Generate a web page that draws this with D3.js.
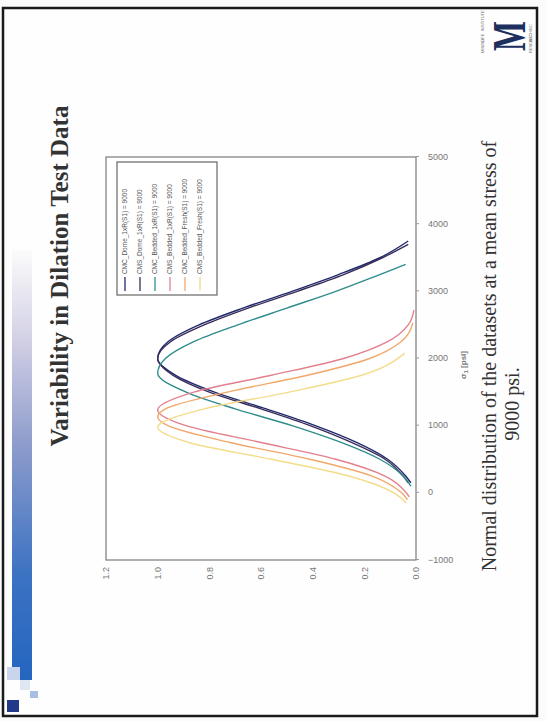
<!DOCTYPE html>
<html><head><meta charset="utf-8">
<script src="https://cdn.jsdelivr.net/npm/d3@7"></script>
<style>html,body{margin:0;padding:0;background:#fff;} svg{display:block}</style>
</head><body>
<svg id="c" width="547" height="721"></svg>
<script>
// ---- data ----
const titleText = "Variability in Dilation Test Data";
const captionLines = ["Normal distribution of the datasets at a mean stress of", "9000 psi."];
const xTickValues = [-1000, 0, 1000, 2000, 3000, 4000, 5000];
const yTickValues = [0, 0.2, 0.4, 0.6, 0.8, 1.0, 1.2];
const yTickLabels = ["0.0", "0.2", "0.4", "0.6", "0.8", "1.0", "1.2"];
const seriesNames = [
  "CMC_Dome_1xR(S1) = 9000",
  "CMS_Dome_1xR(S1) = 9000",
  "CMC_Bedded_1xR(S1) = 9000",
  "CMS_Bedded_1xR(S1) = 9000",
  "CMC_Bedded_Fresh(S1) = 9000",
  "CMS_Bedded_Fresh(S1) = 9000"
];
const seriesColors = ["#1e2a6e", "#3b2c58", "#2f8c8c", "#e2808e", "#f1a86a", "#f3dc8a"];

const psi1 = [150, 250, 500, 750, 1000, 1250, 1500, 1750, 2000, 2250, 2500, 2750, 3000, 3250, 3500, 3750];
const val1 = [0.02, 0.04, 0.11, 0.23, 0.39, 0.58, 0.78, 0.93, 1.0, 0.96, 0.84, 0.67, 0.48, 0.30, 0.14, 0.03];
const psi2 = [150, 250, 500, 750, 1000, 1250, 1500, 1750, 2000, 2250, 2500, 2750, 3000, 3250, 3500, 3700];
const val2 = [0.03, 0.05, 0.12, 0.25, 0.41, 0.60, 0.80, 0.94, 1.0, 0.95, 0.82, 0.65, 0.46, 0.28, 0.13, 0.03];
const psi3 = [100, 250, 500, 750, 1000, 1250, 1500, 1780, 2000, 2250, 2500, 2750, 3000, 3250, 3400];
const val3 = [0.02, 0.05, 0.14, 0.29, 0.48, 0.70, 0.89, 1.0, 0.97, 0.86, 0.69, 0.50, 0.31, 0.14, 0.04];
const psi4 = [-60, 0, 250, 500, 750, 1000, 1235, 1500, 1750, 2000, 2250, 2500, 2720];
const val4 = [0.026, 0.037, 0.12, 0.31, 0.60, 0.89, 1.0, 0.86, 0.56, 0.28, 0.11, 0.03, 0.008];
const psi5 = [-100, 0, 250, 500, 750, 1000, 1130, 1250, 1500, 1750, 2000, 2250, 2530];
const val5 = [0.033, 0.056, 0.17, 0.41, 0.72, 0.96, 1.0, 0.97, 0.73, 0.42, 0.18, 0.058, 0.012];
const psi6 = [-150, 0, 250, 500, 750, 975, 1250, 1500, 1750, 2080];
const val6 = [0.038, 0.086, 0.26, 0.56, 0.88, 1.0, 0.82, 0.49, 0.21, 0.043];

const seriesPsi = [psi1, psi2, psi3, psi4, psi5, psi6];
const seriesVal = [val1, val2, val3, val4, val5, val6];
const series = seriesNames.map((n, i) => ({
  name: n, color: seriesColors[i],
  pts: seriesPsi[i].map((p, j) => [p, seriesVal[i][j]])
}));

// ---- drawing ----
const svg = d3.select("#c");
svg.append("rect").attr("width", 547).attr("height", 721).attr("fill", "#fbfbfb");

// slide is rotated -90deg in the photo
const slide = svg.append("g").attr("transform", "translate(0,721) rotate(-90)");
const defs = svg.append("defs");
const grad = defs.append("linearGradient").attr("id", "bar").attr("x1", "0").attr("x2", "1").attr("y1", "0").attr("y2", "0");
grad.append("stop").attr("offset", "0").attr("stop-color", "#2465c0");
grad.append("stop").attr("offset", "0.25").attr("stop-color", "#3d73c2");
grad.append("stop").attr("offset", "0.55").attr("stop-color", "#8e9ccc");
grad.append("stop").attr("offset", "0.8").attr("stop-color", "#d4d2e6");
grad.append("stop").attr("offset", "1").attr("stop-color", "#fbfbfb");

slide.append("rect").attr("x", 5).attr("y", 3).attr("width", 708).attr("height", 534)
  .attr("fill", "#fefefe").attr("stroke", "#1a1a1a").attr("stroke-width", 2.5);

// decorative bar and squares
slide.append("rect").attr("x", 41).attr("y", 12).attr("width", 430).attr("height", 20).attr("fill", "url(#bar)");
const squares = [
  {x: 41, y: 7, w: 13, h: 13, c: "#c9d5ec"},
  {x: 31, y: 20, w: 10, h: 10, c: "#dfe6f4"},
  {x: 23, y: 30, w: 7, h: 8, c: "#a8bde2"},
  {x: 9, y: 7, w: 12, h: 12, c: "#22398a"}
];
slide.selectAll("rect.sq").data(squares).join("rect").attr("class", "sq")
  .attr("x", d => d.x).attr("y", d => d.y).attr("width", d => d.w).attr("height", d => d.h).attr("fill", d => d.c);

// title
slide.append("text").attr("x", 445).attr("y", 68).attr("text-anchor", "middle")
  .attr("font-family", "'Liberation Serif', 'Times New Roman', serif").attr("font-weight", "bold")
  .attr("font-size", 25).attr("fill", "#333").text(titleText);

// logo
const logo = slide.append("g");
logo.append("text").attr("x", 685).attr("y", 525).attr("text-anchor", "middle")
  .attr("font-family", "'Liberation Serif', serif").attr("font-weight", "bold").attr("font-size", 46)
  .attr("textLength", 30).attr("lengthAdjust", "spacingAndGlyphs").attr("fill", "#1c2f5e").text("M");
["MINING", "LIFE", "INSTITUTE"].forEach((t, i) => {
  logo.append("text").attr("x", 668 + i * 11).attr("y", 484).attr("font-family", "Arial, sans-serif")
    .attr("font-size", 4).attr("fill", "#777").text(t);
});
["RESEARCH", "LLC", "INC"].forEach((t, i) => {
  logo.append("text").attr("x", 668 + i * 11).attr("y", 532).attr("font-family", "Arial, sans-serif")
    .attr("font-size", 4).attr("fill", "#777").text(t);
});

// chart
const x = d3.scaleLinear().domain([-1000, 5000]).range([161, 564]);
const y = d3.scaleLinear().domain([0, 1.2]).range([416, 106]);
const chart = slide.append("g");

chart.append("rect").attr("x", x(-1000)).attr("y", y(1.2)).attr("width", x(5000) - x(-1000)).attr("height", y(0) - y(1.2))
  .attr("fill", "#fff").attr("stroke", "#7a7a7a").attr("stroke-width", 1.2);

const line = d3.line().x(d => x(d[0])).y(d => y(d[1])).curve(d3.curveMonotoneX);
chart.selectAll("path.s").data(series).join("path").attr("class", "s")
  .attr("d", d => line(d.pts)).attr("fill", "none").attr("stroke", d => d.color).attr("stroke-width", 1.4);

// x axis
const xAxis = chart.append("g").attr("transform", `translate(0,${y(0)})`)
  .call(d3.axisBottom(x).tickValues(xTickValues).tickSize(3).tickFormat(d3.format("d")));
xAxis.select(".domain").remove();
xAxis.selectAll("line").attr("stroke", "#999");
xAxis.selectAll("text").attr("transform", "rotate(90)").attr("x", 12).attr("y", 0).attr("dy", "0.35em")
  .attr("text-anchor", "start").attr("font-family", "Arial, sans-serif").attr("font-size", 9).attr("fill", "#777");

// y axis
const yAxis = chart.append("g").attr("transform", `translate(${x(-1000)},0)`)
  .call(d3.axisLeft(y).tickValues(yTickValues).tickSize(0).tickPadding(7).tickFormat((d, i) => yTickLabels[i]));
yAxis.select(".domain").remove();
yAxis.selectAll("text").attr("font-family", "Arial, sans-serif").attr("font-size", 9).attr("fill", "#777");

// axis title
const at = chart.append("text").attr("x", 356).attr("y", 466).attr("text-anchor", "middle")
  .attr("font-family", "Arial, sans-serif").attr("font-size", 8).attr("font-weight", "bold").attr("fill", "#777");
at.append("tspan").text("σ");
at.append("tspan").attr("font-size", 6).attr("dy", 2).text("1");
at.append("tspan").attr("dy", -2).text(" [psi]");

// legend
const lg = chart.append("g").attr("transform", "translate(426,117)");
lg.append("rect").attr("width", 133).attr("height", 100).attr("fill", "#fff").attr("stroke", "#666").attr("stroke-width", 1.2);
const rows = lg.selectAll("g.r").data(series).join("g").attr("class", "r")
  .attr("transform", (d, i) => `translate(0,${8 + i * 15})`);
rows.append("line").attr("x1", 4).attr("x2", 18).attr("y1", 0).attr("y2", 0).attr("stroke", d => d.color).attr("stroke-width", 1.3);
rows.append("text").attr("x", 21).attr("y", 0).attr("dy", "0.35em").attr("font-family", "Arial, sans-serif")
  .attr("font-size", 6.5).attr("fill", "#555").text(d => d.name);

// caption
slide.append("text").attr("x", 365).attr("y", 496).attr("text-anchor", "middle")
  .attr("font-family", "'Liberation Serif', 'Times New Roman', serif").attr("font-size", 20).attr("fill", "#333").text(captionLines[0]);
slide.append("text").attr("x", 317).attr("y", 519).attr("text-anchor", "middle")
  .attr("font-family", "'Liberation Serif', 'Times New Roman', serif").attr("font-size", 20).attr("fill", "#333").text(captionLines[1]);
</script>
</body></html>
